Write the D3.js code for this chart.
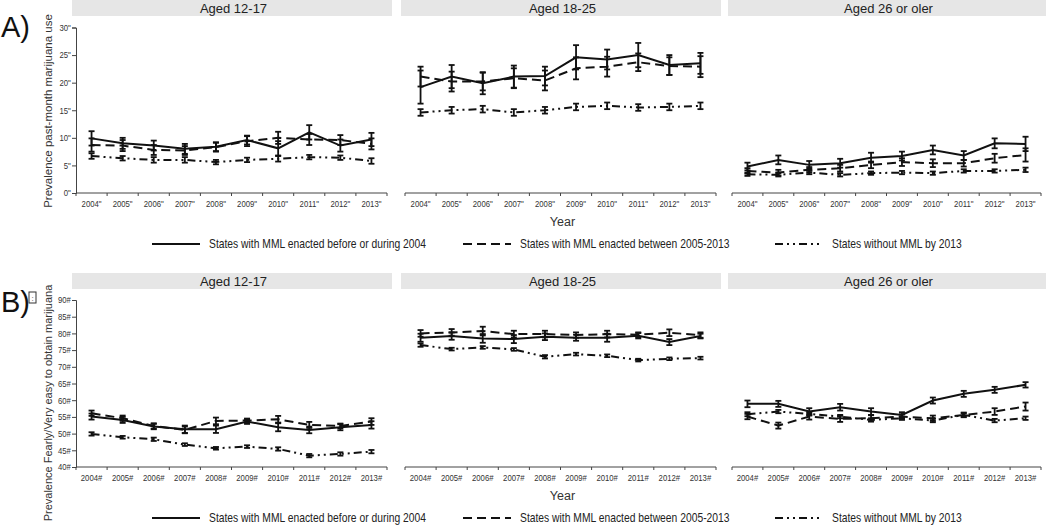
<!DOCTYPE html>
<html>
<head>
<meta charset="utf-8">
<script src="https://cdn.jsdelivr.net/npm/d3@7"></script>
<style>
  body { margin: 0; background: #fff; }
  svg { display: block; font-family: "Liberation Sans", Arial, sans-serif; }
</style>
</head>
<body>
<svg id="chart" width="1050" height="526"></svg>
<script>
// ---- data ----
var years = ["2004", "2005", "2006", "2007", "2008", "2009", "2010", "2011", "2012", "2013"];
var ageGroups = ["Aged 12-17", "Aged 18-25", "Aged 26 or oler"];
var seriesNames = ["States with MML enacted before or during 2004",
                   "States with MML enacted between 2005-2013",
                   "States without MML by 2013"];

// A) past-month use, one row per age group
var useEarly = [
  [9.9, 9.0, 8.6, 8.0, 8.4, 9.6, 8.1, 11.0, 8.6, 9.7],
  [19.2, 21.1, 19.9, 21.1, 21.2, 24.6, 24.2, 25.0, 23.2, 23.5],
  [4.8, 6.0, 5.1, 5.4, 6.4, 6.7, 7.8, 6.8, 9.0, 8.9]
];
var useEarlyErr = [
  [1.3, 1.0, 0.9, 0.9, 0.8, 0.8, 1.3, 1.3, 1.1, 1.2],
  [3.0, 2.1, 2.0, 2.0, 1.7, 2.2, 1.8, 2.2, 1.8, 1.9],
  [0.7, 0.8, 0.7, 0.8, 0.9, 0.8, 0.8, 0.8, 0.9, 1.3]
];
var useLater = [
  [8.7, 8.6, 7.8, 7.7, 8.3, 9.4, 10.0, 9.7, 9.6, 8.9],
  [21.1, 20.2, 20.2, 20.8, 20.4, 22.6, 22.9, 23.7, 23.0, 22.9],
  [4.0, 3.7, 4.2, 4.5, 5.1, 5.6, 5.4, 5.4, 6.3, 6.9]
];
var useLaterErr = [
  [1.2, 1.0, 0.9, 0.8, 0.8, 0.9, 1.1, 1.0, 0.9, 1.0],
  [1.8, 1.8, 1.6, 1.8, 1.8, 2.0, 1.8, 1.6, 1.6, 1.9],
  [0.5, 0.5, 0.5, 0.6, 0.6, 0.7, 0.7, 0.6, 0.8, 1.2]
];
var useNone = [
  [6.7, 6.3, 6.0, 6.0, 5.6, 6.0, 6.2, 6.5, 6.4, 5.8],
  [14.6, 15.0, 15.2, 14.6, 15.0, 15.6, 15.8, 15.5, 15.6, 15.8],
  [3.4, 3.3, 3.7, 3.3, 3.6, 3.7, 3.6, 4.0, 4.0, 4.2]
];
var useNoneErr = [
  [0.5, 0.4, 0.5, 0.5, 0.4, 0.4, 0.5, 0.4, 0.4, 0.5],
  [0.6, 0.6, 0.6, 0.6, 0.6, 0.6, 0.6, 0.6, 0.6, 0.6],
  [0.3, 0.3, 0.3, 0.3, 0.3, 0.3, 0.3, 0.3, 0.3, 0.4]
];

// B) fairly/very easy to obtain
var easyEarly = [
  [55.1, 54.1, 52.1, 51.3, 51.3, 53.6, 51.9, 51.1, 51.9, 52.6],
  [78.7, 79.2, 78.5, 78.3, 79.0, 78.7, 78.7, 79.3, 77.4, 79.2],
  [58.9, 58.9, 56.6, 57.9, 56.6, 55.6, 59.9, 61.9, 63.1, 64.6]
];
var easyEarlyErr = [
  [0.9, 0.9, 0.8, 1.1, 1.1, 0.7, 1.2, 1.0, 0.9, 1.1],
  [1.2, 1.1, 1.3, 1.2, 1.0, 0.9, 1.2, 0.8, 0.9, 0.7],
  [1.0, 0.9, 1.0, 1.0, 1.0, 0.8, 0.9, 0.9, 0.9, 0.8]
];
var easyLater = [
  [56.1, 54.6, 52.3, 51.1, 53.8, 53.9, 54.3, 52.6, 52.3, 53.6],
  [80.0, 80.3, 80.7, 79.8, 79.8, 79.5, 79.8, 79.6, 80.2, 79.5],
  [55.1, 52.4, 55.1, 54.4, 54.6, 55.1, 54.6, 55.6, 56.6, 58.1]
];
var easyLaterErr = [
  [0.8, 0.8, 0.8, 1.0, 1.0, 0.6, 1.0, 0.9, 0.7, 1.0],
  [1.0, 1.0, 1.3, 1.0, 1.0, 0.8, 1.0, 0.7, 1.0, 0.8],
  [0.8, 0.9, 0.9, 0.9, 0.9, 0.7, 0.8, 0.7, 1.0, 1.2]
];
var easyNone = [
  [49.9, 48.9, 48.3, 46.7, 45.6, 46.1, 45.4, 43.4, 43.9, 44.6],
  [76.5, 75.3, 75.8, 75.2, 73.0, 73.8, 73.3, 72.0, 72.4, 72.6],
  [55.8, 56.6, 55.9, 55.1, 54.1, 54.6, 53.9, 55.6, 53.9, 54.6]
];
var easyNoneErr = [
  [0.5, 0.4, 0.5, 0.4, 0.4, 0.4, 0.5, 0.5, 0.5, 0.5],
  [0.5, 0.4, 0.4, 0.4, 0.5, 0.4, 0.4, 0.4, 0.4, 0.4],
  [0.6, 0.5, 0.5, 0.5, 0.5, 0.5, 0.5, 0.5, 0.5, 0.5]
];

var useTicks = [0, 5, 10, 15, 20, 25, 30];
var easyTicks = [40, 45, 50, 55, 60, 65, 70, 75, 80, 85, 90];

// ---- layout ----
var svg = d3.select("#chart");
var dashes = [null, "9,5", "8,4,2,4,2,4"];
var panelX = [[76, 387], [405, 716], [732, 1041]];
var squeeze = 0.86; // no narrow font installed, so condense horizontally

function narrowText(parent, x, y, txt, size, anchor, fill) {
	return parent.append("text")
		.attr("transform", "translate(" + x + "," + y + ") scale(" + squeeze + ",1)")
		.attr("text-anchor", anchor)
		.attr("font-size", size)
		.attr("fill", fill)
		.text(txt);
}

var rows = [
  { tag: "A)", tagY: 37, top: 0, yDomain: [0, 30], yRange: [193, 27.5], ticks: useTicks, mark: '"',
    title: "Prevalence past-month marijuana use", titleY: 111, titleSize: 11.5,
    vals: [useEarly, useLater, useNone], errs: [useEarlyErr, useLaterErr, useNoneErr],
    legendY: 244 },
  { tag: "B)", tagY: 312, top: 273, yDomain: [40, 90], yRange: [467, 300], ticks: easyTicks, mark: "#",
    title: "Prevalence Fearly/Very easy to obtain marijuana", titleY: 403, titleSize: 11,
    vals: [easyEarly, easyLater, easyNone], errs: [easyEarlyErr, easyLaterErr, easyNoneErr],
    legendY: 518 }
];

rows.forEach(function(row) {
	var y = d3.scaleLinear().domain(row.yDomain).range(row.yRange);
	var base = row.yRange[0];

	svg.append("text")
		.attr("x", 1).attr("y", row.tagY)
		.attr("font-size", 29)
		.attr("fill", "#111")
		.text(row.tag);

	if (row.tag === "B)") {
		// stray glyph box next to the label
		svg.append("rect")
			.attr("x", 29).attr("y", 292).attr("width", 7).attr("height", 11)
			.attr("fill", "none").attr("stroke", "#333").attr("stroke-width", 1);
		svg.append("text")
			.attr("x", 32.5).attr("y", 301).attr("text-anchor", "middle")
			.attr("font-size", 8).attr("fill", "#333").text(":");
	}

	svg.append("text")
		.attr("transform", "translate(52," + row.titleY + ") rotate(-90)")
		.attr("text-anchor", "middle")
		.attr("font-size", row.titleSize)
		.attr("fill", "#333")
		.text(row.title);

	ageGroups.forEach(function(age, p) {
		var x = d3.scaleBand().domain(years).range(panelX[p]);
		var cx = function(i) { return x(years[i]) + x.bandwidth() / 2; };

		// strip header
		svg.append("rect")
			.attr("x", panelX[p][0] - 4).attr("y", row.top)
			.attr("width", panelX[p][1] - panelX[p][0] + 9).attr("height", 16)
			.attr("fill", "#e6e6e6");
		svg.append("text")
			.attr("x", (panelX[p][0] + panelX[p][1]) / 2 + 2).attr("y", row.top + 12.5)
			.attr("text-anchor", "middle")
			.attr("font-size", 13)
			.attr("fill", "#222")
			.text(age);

		// x axis: labels at band centres, ticks at band edges
		var g = svg.append("g").attr("transform", "translate(0," + base + ")");
		g.append("line")
			.attr("x1", panelX[p][0]).attr("x2", panelX[p][1])
			.attr("stroke", "#444").attr("stroke-width", 1);
		g.selectAll("line.edge")
			.data(years.concat(["end"]))
			.enter().append("line")
			.attr("class", "edge")
			.attr("x1", function(d) { return d === "end" ? panelX[p][1] : x(d); })
			.attr("x2", function(d) { return d === "end" ? panelX[p][1] : x(d); })
			.attr("y1", 0).attr("y2", 3)
			.attr("stroke", "#444");
		years.forEach(function(d, i) {
			narrowText(g, cx(i), 13.5, d + row.mark, 9, "middle", "#333");
		});

		if (p === 0) {
			var yAxis = d3.axisLeft(y)
				.tickValues(row.ticks)
				.tickSize(4)
				.tickPadding(2)
				.tickFormat(function(d) { return d + row.mark; });
			var ga = svg.append("g")
				.attr("transform", "translate(" + panelX[0][0] + ",0)")
				.call(yAxis);
			ga.select(".domain").attr("stroke", "#444");
			ga.selectAll(".tick line").attr("stroke", "#444");
			ga.selectAll(".tick text")
				.attr("transform", "scale(" + squeeze + ",1)")
				.attr("font-size", 9)
				.attr("fill", "#333");
		}

		if (p === 1) {
			svg.append("text")
				.attr("x", (panelX[1][0] + panelX[1][1]) / 2 + 2)
				.attr("y", base + 33)
				.attr("text-anchor", "middle")
				.attr("font-size", 12.5)
				.attr("fill", "#333")
				.text("Year");
		}

		// series: lines + error bars
		row.vals.forEach(function(vs, s) {
			var vals = vs[p], errs = row.errs[s][p];
			var line = d3.line()
				.x(function(d, i) { return cx(i); })
				.y(function(d) { return y(d); });
			svg.append("path")
				.datum(vals)
				.attr("d", line)
				.attr("fill", "none")
				.attr("stroke", "#111")
				.attr("stroke-width", 2)
				.attr("stroke-dasharray", dashes[s]);

			var eb = svg.append("g").selectAll("g")
				.data(vals)
				.enter().append("g");
			eb.append("line")
				.attr("x1", function(d, i) { return cx(i); })
				.attr("x2", function(d, i) { return cx(i); })
				.attr("y1", function(d, i) { return y(d - errs[i]); })
				.attr("y2", function(d, i) { return y(d + errs[i]); })
				.attr("stroke", "#111").attr("stroke-width", 1.8);
			[-1, 1].forEach(function(sign) {
				eb.append("line")
					.attr("x1", function(d, i) { return cx(i) - 3; })
					.attr("x2", function(d, i) { return cx(i) + 3; })
					.attr("y1", function(d, i) { return y(d + sign * errs[i]); })
					.attr("y2", function(d, i) { return y(d + sign * errs[i]); })
					.attr("stroke", "#111").attr("stroke-width", 1.8);
			});
		});
	});

	// legend
	var legX = [152, 463, 775];
	seriesNames.forEach(function(name, s) {
		svg.append("line")
			.attr("x1", legX[s]).attr("x2", legX[s] + 48)
			.attr("y1", row.legendY).attr("y2", row.legendY)
			.attr("stroke", "#111").attr("stroke-width", 2)
			.attr("stroke-dasharray", dashes[s]);
		narrowText(svg, legX[s] + 57, row.legendY + 4, name, 12, "start", "#222");
	});
});
</script>
</body>
</html>
